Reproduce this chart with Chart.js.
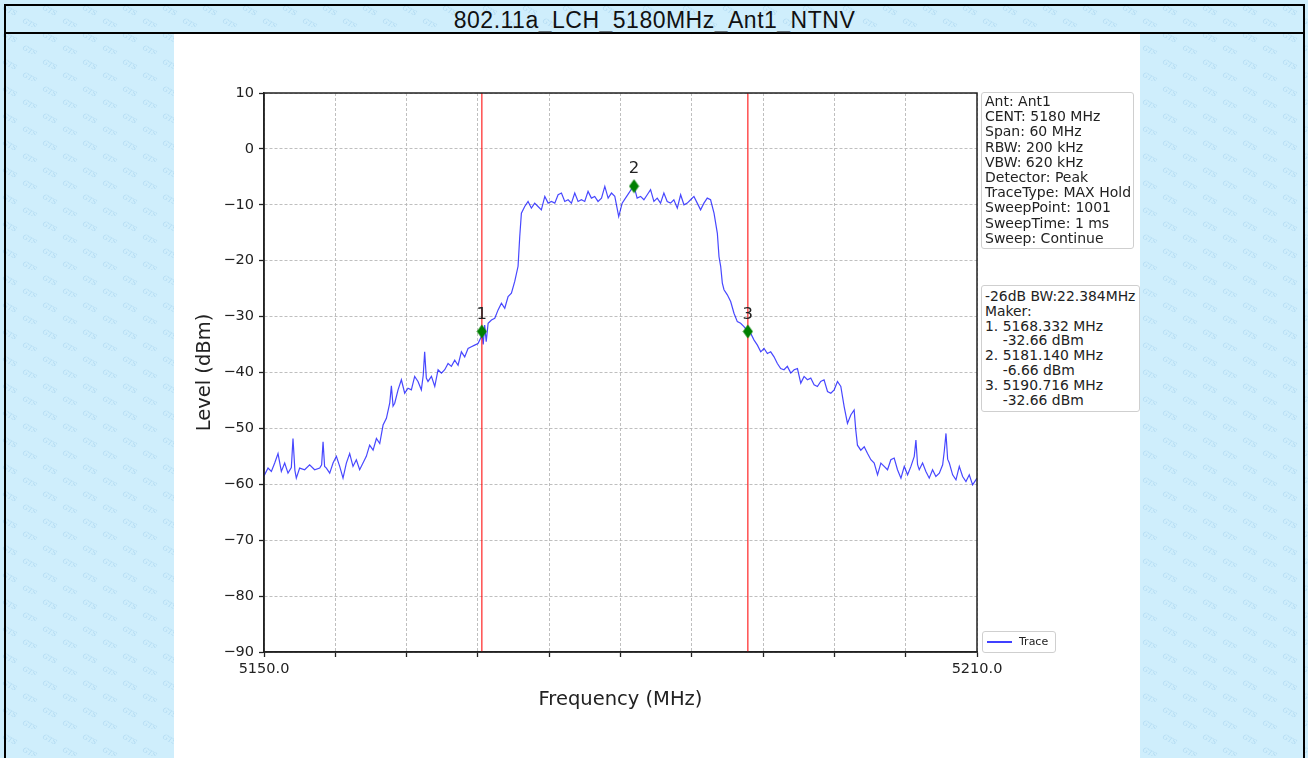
<!DOCTYPE html>
<html>
<head>
<meta charset="utf-8">
<title>802.11a_LCH_5180MHz_Ant1_NTNV</title>
<script src="https://cdn.jsdelivr.net/npm/chart.js@4.4.0/dist/chart.umd.min.js"></script>
<style>
    html, body {
        margin: 0;
        padding: 0;
        width: 1308px;
        height: 758px;
        overflow: hidden;
    }
    body {
        position: relative;
        background-color: #cfeefc;
        background-image: url("data:image/svg+xml;utf8,<svg xmlns='http://www.w3.org/2000/svg' width='40' height='27'><g fill='rgb(150,200,232)' fill-opacity='0.55' font-family='DejaVu Serif' font-style='italic' font-size='7'><text x='2' y='9' transform='rotate(28 2 9)'>GTS</text><text x='22' y='22' transform='rotate(28 22 22)'>GTS</text></g></svg>");
        font-family: "DejaVu Sans", sans-serif;
        color: #222;
    }
    #marco {
        position: absolute;
        left: 4px;
        top: 4px;
        width: 1297px;
        height: 800px;
        border: 2px solid #000;
    }
    #titulo {
        height: 26px;
        line-height: 28px;
        border-bottom: 2px solid #000;
        text-align: center;
        font-family: "Liberation Sans", Arial, sans-serif;
        font-size: 23px;
        letter-spacing: 0.5px;
        color: #111;
    }
    #panel {
        position: absolute;
        left: 174px;
        top: 34px;
        width: 966px;
        height: 724px;
        background: #fff;
    }
    .caja {
        position: absolute;
        box-sizing: border-box;
        background: #fff;
        border: 1px solid #cfcfcf;
        border-radius: 3px;
        font-size: 14px;
        white-space: pre;
        color: #222;
    }
    #info {
        left: 981px;
        top: 92px;
        width: 153px;
        height: 157px;
        line-height: 15.2px;
        padding: 1px 0 0 3px;
    }
    #marcas {
        left: 981px;
        top: 285px;
        width: 159px;
        height: 127px;
        line-height: 14.8px;
        padding: 3px 0 0 3px;
        font-size: 13.9px;
    }
    #leyenda {
        left: 982px;
        top: 631px;
        width: 74px;
        height: 22px;
        font-size: 11px;
        line-height: 20px;
    }
    #leyenda .muestra {
        position: absolute;
        left: 4px;
        top: 9px;
        width: 25px;
        height: 0;
        border-top: 2px solid rgba(0, 0, 255, 0.75);
    }
    #leyenda .texto {
        position: absolute;
        left: 36px;
        top: 0;
    }
</style>
</head>
<body>
<div id="marco">
    <div id="titulo">802.11a_LCH_5180MHz_Ant1_NTNV</div>
</div>
<div id="panel">
    <canvas id="spectrum-chart" width="966" height="724"></canvas>
</div>
<div class="caja" id="info">Ant: Ant1
CENT: 5180 MHz
Span: 60 MHz
RBW: 200 kHz
VBW: 620 kHz
Detector: Peak
TraceType: MAX Hold
SweepPoint: 1001
SweepTime: 1 ms
Sweep: Continue</div>
<div class="caja" id="marcas">-26dB BW:22.384MHz
Maker:
1. 5168.332 MHz
    -32.66 dBm
2. 5181.140 MHz
    -6.66 dBm
3. 5190.716 MHz
    -32.66 dBm</div>
<div class="caja" id="leyenda"><span class="muestra"></span><span class="texto">Trace</span></div>

<script>
// Traza del analizador (MHz, dBm)
var frecuencias = [
    5150.00, 5150.34, 5150.62, 5150.90, 5151.18, 5151.46, 5151.74, 5152.02, 5152.30, 5152.44,
    5152.60, 5152.72, 5153.00, 5153.42, 5153.84, 5154.26, 5154.69, 5154.85, 5154.97, 5155.10,
    5155.25, 5155.53, 5155.81, 5156.09, 5156.37, 5156.65, 5156.93, 5157.21, 5157.49, 5157.77,
    5158.05, 5158.33, 5158.61, 5158.89, 5159.18, 5159.46, 5159.74, 5160.02, 5160.30, 5160.58,
    5160.72, 5160.86, 5161.00, 5161.28, 5161.56, 5161.84, 5162.12, 5162.40, 5162.68, 5162.96,
    5163.24, 5163.40, 5163.52, 5163.66, 5163.80, 5164.09, 5164.37, 5164.65, 5164.93, 5165.21,
    5165.49, 5165.77, 5166.05, 5166.33, 5166.61, 5166.89, 5167.17, 5167.45, 5167.73, 5168.01,
    5168.29, 5168.332, 5168.45, 5168.57, 5168.70, 5168.86, 5169.14, 5169.42, 5169.70, 5169.98,
    5170.26, 5170.54, 5170.82, 5171.10, 5171.38, 5171.52, 5171.66, 5171.94, 5172.22, 5172.50,
    5172.78, 5173.06, 5173.34, 5173.63, 5173.91, 5174.19, 5174.47, 5174.75, 5175.03, 5175.31,
    5175.59, 5175.87, 5176.15, 5176.43, 5176.71, 5176.99, 5177.27, 5177.55, 5177.83, 5178.11,
    5178.40, 5178.68, 5178.96, 5179.24, 5179.52, 5179.85, 5180.14, 5180.42, 5180.70, 5180.98,
    5181.14, 5181.40, 5181.69, 5181.97, 5182.25, 5182.53, 5182.81, 5183.09, 5183.37, 5183.65,
    5183.93, 5184.21, 5184.49, 5184.78, 5185.06, 5185.34, 5185.62, 5185.90, 5186.18, 5186.46,
    5186.74, 5187.02, 5187.30, 5187.58, 5187.87, 5188.15, 5188.29, 5188.43, 5188.57, 5188.71,
    5188.99, 5189.27, 5189.55, 5189.83, 5190.11, 5190.39, 5190.716, 5190.96, 5191.24, 5191.52,
    5191.80, 5192.08, 5192.36, 5192.64, 5192.92, 5193.20, 5193.48, 5193.76, 5194.04, 5194.33,
    5194.61, 5194.89, 5195.17, 5195.45, 5195.73, 5196.01, 5196.29, 5196.57, 5196.85, 5197.13,
    5197.42, 5197.70, 5197.98, 5198.26, 5198.54, 5198.82, 5199.10, 5199.38, 5199.66, 5199.80,
    5199.94, 5200.22, 5200.51, 5200.79, 5201.07, 5201.35, 5201.63, 5201.91, 5202.19, 5202.47,
    5202.75, 5203.03, 5203.31, 5203.60, 5203.88, 5204.16, 5204.44, 5204.72, 5204.86, 5205.00,
    5205.14, 5205.42, 5205.70, 5205.98, 5206.26, 5206.54, 5206.83, 5207.11, 5207.25, 5207.39,
    5207.53, 5207.67, 5207.95, 5208.23, 5208.51, 5208.79, 5209.07, 5209.35, 5209.63, 5210.00
];

var niveles = [
    -58.5, -57.1, -57.7, -56.2, -54.5, -57.7, -56.2, -58.0, -57.0, -51.8,
    -57.5, -58.9, -57.1, -57.4, -56.5, -57.4, -57.1, -56.5, -52.4, -56.8,
    -57.1, -58.0, -56.2, -55.0, -56.8, -58.9, -56.2, -54.5, -56.8, -55.6,
    -57.4, -56.2, -55.0, -53.0, -53.9, -51.8, -52.7, -49.4, -48.2, -45.5,
    -42.4, -46.0, -45.5, -43.1, -41.3, -43.7, -42.8, -43.1, -40.7, -41.6,
    -43.1, -40.5, -36.3, -41.0, -41.6, -40.7, -42.5, -39.5, -40.1, -39.5,
    -38.4, -38.9, -37.8, -38.7, -36.3, -37.2, -35.7, -35.4, -35.1, -34.8,
    -33.6, -32.66, -35.0, -31.5, -34.5, -31.2, -30.6, -30.3, -28.8, -27.6,
    -28.5, -26.4, -25.8, -23.7, -21.0, -15.7, -11.5, -10.3, -9.4, -10.6,
    -9.7, -10.3, -10.9, -8.5, -9.7, -9.4, -9.7, -8.2, -7.9, -9.4,
    -9.1, -9.7, -7.9, -9.4, -9.1, -9.4, -7.6, -8.8, -8.5, -9.4,
    -8.8, -6.7, -8.8, -7.9, -8.5, -12.1, -9.7, -8.8, -7.9, -7.0,
    -6.66, -8.8, -8.5, -9.1, -8.2, -7.3, -9.4, -8.8, -9.7, -7.9,
    -9.4, -9.7, -9.1, -10.6, -8.2, -10.0, -9.7, -9.1, -8.5, -9.7,
    -10.9, -9.7, -8.8, -9.1, -11.5, -15.1, -19.3, -21.0, -24.0, -25.2,
    -26.1, -27.3, -29.4, -30.9, -31.2, -31.8, -32.66, -33.0, -34.2, -35.1,
    -36.3, -35.7, -36.6, -36.3, -37.2, -38.4, -39.3, -39.5, -38.9, -40.1,
    -39.5, -39.3, -41.9, -40.7, -41.3, -41.0, -42.2, -42.5, -41.6, -41.3,
    -43.4, -43.7, -43.1, -41.6, -42.5, -46.1, -49.1, -47.6, -46.7, -50.3,
    -53.0, -53.9, -53.3, -54.5, -55.6, -56.2, -58.3, -56.2, -56.8, -57.4,
    -55.6, -55.3, -57.4, -58.9, -56.8, -58.3, -56.8, -55.0, -52.1, -56.5,
    -57.4, -56.2, -57.7, -58.9, -57.4, -58.6, -58.0, -56.5, -54.0, -50.9,
    -55.5, -56.2, -58.3, -59.2, -56.8, -58.6, -59.5, -58.3, -60.1, -58.9
];

// Marcadores
var marcaFrecuencia = [5168.332, 5181.140, 5190.716];
var marcaNivel = [-32.66, -6.66, -32.66];
var marcaNombre = ["1", "2", "3"];

// Lineas de ancho de banda -26 dB
var lineasBW = [5168.332, 5190.716];

// Ejes
var ticksX = [5150, 5156, 5162, 5168, 5174, 5180, 5186, 5192, 5198, 5204, 5210];
var ticksY = [-90, -80, -70, -60, -50, -40, -30, -20, -10, 0, 10];

var fuente = "'DejaVu Sans', sans-serif";

// Rombo verde (estilo 'd')
function crearRombo() {
    var c = document.createElement("canvas");
    c.width = 11;
    c.height = 15;
    var g = c.getContext("2d");
    g.fillStyle = "#008000";
    g.beginPath();
    g.moveTo(5.5, 0.5);
    g.lineTo(10.5, 7.5);
    g.lineTo(5.5, 14.5);
    g.lineTo(0.5, 7.5);
    g.closePath();
    g.fill();
    return c;
}

function puntos(xs, ys) {
    return xs.map(function (x, i) {
        return { x: x, y: ys[i] };
    });
}

// Marco completo del area de trazado y numeros de los marcadores
var extras = {
    id: "extras",
    afterDraw: function (chart) {
        var ctx = chart.ctx;
        var a = chart.chartArea;
        var sx = chart.scales.x;
        var sy = chart.scales.y;
        ctx.save();
        ctx.strokeStyle = "#222";
        ctx.lineWidth = 1.5;
        ctx.strokeRect(a.left, a.top, a.right - a.left, a.bottom - a.top);

        ctx.fillStyle = "#222";
        ctx.font = "16.5px " + fuente;
        ctx.textAlign = "center";
        ctx.textBaseline = "middle";
        for (var i = 0; i < marcaFrecuencia.length; i++) {
            var px = sx.getPixelForValue(marcaFrecuencia[i]);
            var py = sy.getPixelForValue(marcaNivel[i]);
            ctx.fillText(marcaNombre[i], px, py - 17);
        }
        ctx.restore();
    }
};

function drawSpectrumChart() {
    var datasets = [];

    datasets.push({
        label: "Trace",
        data: puntos(frecuencias, niveles),
        borderColor: "rgba(0, 0, 255, 0.72)",
        borderWidth: 1.2,
        pointRadius: 0,
        tension: 0,
        order: 3
    });

    lineasBW.forEach(function (f) {
        datasets.push({
            label: "BW",
            data: [{ x: f, y: -90 }, { x: f, y: 10 }],
            borderColor: "rgba(255, 0, 0, 0.8)",
            borderWidth: 1.3,
            pointRadius: 0,
            order: 2
        });
    });

    datasets.push({
        label: "Marker",
        data: puntos(marcaFrecuencia, marcaNivel),
        showLine: false,
        pointStyle: crearRombo(),
        pointRadius: 7,
        clip: false,
        order: 1
    });

    var ctx = document.getElementById("spectrum-chart").getContext("2d");
    var spectrumChart = new Chart(ctx, {
        type: "line",
        data: { datasets: datasets },
        options: {
            responsive: false,
            animation: false,
            events: [],
            layout: {
                padding: { top: 59, right: 163, left: 0, bottom: 0 }
            },
            plugins: {
                legend: { display: false },
                tooltip: { enabled: false }
            },
            scales: {
                x: {
                    type: "linear",
                    min: 5150,
                    max: 5210,
                    afterBuildTicks: function (scale) {
                        scale.ticks = ticksX.map(function (v) { return { value: v }; });
                    },
                    afterFit: function (scale) {
                        scale.height = 106;
                    },
                    ticks: {
                        autoSkip: false,
                        maxRotation: 0,
                        padding: 4,
                        color: "#222",
                        font: { family: fuente, size: 14.5 },
                        callback: function (value, index, ticks) {
                            if (index === 0 || index === ticks.length - 1) {
                                return Number(value).toFixed(1);
                            }
                            return "";
                        }
                    },
                    grid: {
                        color: "#b8b8b8",
                        lineWidth: 0.9,
                        tickLength: 5,
                        tickColor: "#222",
                        tickWidth: 1.3
                    },
                    border: { color: "#222", width: 1.5, dash: [3, 2] },
                    title: {
                        display: true,
                        text: "Frequency (MHz)",
                        color: "#222",
                        font: { family: fuente, size: 19.5 },
                        padding: { top: 0, bottom: 46 }
                    }
                },
                y: {
                    type: "linear",
                    min: -90,
                    max: 10,
                    afterBuildTicks: function (scale) {
                        scale.ticks = ticksY.map(function (v) { return { value: v }; });
                    },
                    afterFit: function (scale) {
                        scale.width = 90;
                    },
                    ticks: {
                        autoSkip: false,
                        padding: 5,
                        color: "#222",
                        font: { family: fuente, size: 14.5 },
                        callback: function (value) {
                            return value < 0 ? "\u2212" + Math.abs(value) : String(value);
                        }
                    },
                    grid: {
                        color: "#b8b8b8",
                        lineWidth: 0.9,
                        tickLength: 5,
                        tickColor: "#222",
                        tickWidth: 1.3
                    },
                    border: { color: "#222", width: 1.5, dash: [3, 2] },
                    title: {
                        display: true,
                        text: "Level (dBm)",
                        color: "#222",
                        font: { family: fuente, size: 19.5 },
                        padding: { top: 19, bottom: 0 }
                    }
                }
            }
        },
        plugins: [extras]
    });
}

drawSpectrumChart();
</script>
</body>
</html>
